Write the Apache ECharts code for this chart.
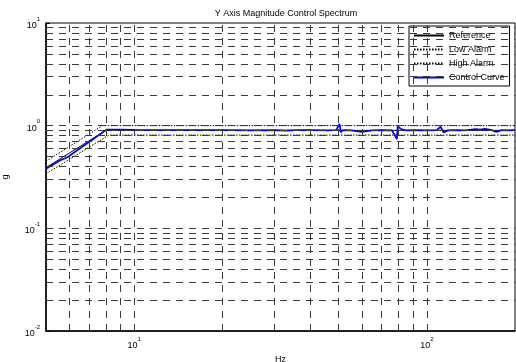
<!DOCTYPE html>
<html>
<head>
<meta charset="utf-8">
<script src="https://cdn.jsdelivr.net/npm/echarts@6/dist/echarts.min.js"></script>
<style>
html, body { margin: 0; padding: 0; background: #fff; }
#spectrumChart { width: 516px; height: 362px; }
</style>
</head>
<body>
<div id="spectrumChart"></div>
<script>
// 参考谱 / 报警线 (Hz, g)
var refFreq  = [5, 8, 200];
var refVals  = [0.39, 0.9, 0.9];
var lowFreq  = [5, 8.2, 200];
var lowVals  = [0.34, 0.81, 0.81];
var highFreq = [5, 7.8, 200];
var highVals = [0.45, 1.0, 1.0];

// 控制曲线
var ctrlFreq = [5, 5.6, 5.9, 8.05, 9, 10, 12, 15, 20, 25, 30, 33, 36, 40, 45, 49, 50.3, 50.8, 51.5, 52.5, 55, 60, 65, 70, 76, 79, 79.5, 80.7, 82, 85, 90, 100, 108, 111.5, 114, 118, 125, 135, 147, 152, 158, 165, 173, 180, 190, 200];
var ctrlVals = [0.38, 0.46, 0.49, 0.915, 0.915, 0.91, 0.905, 0.905, 0.905, 0.9, 0.905, 0.895, 0.905, 0.905, 0.9, 0.905, 1.04, 0.86, 0.9, 0.905, 0.9, 0.87, 0.9, 0.905, 0.9, 0.74, 0.98, 0.96, 0.92, 0.9, 0.905, 0.9, 0.905, 0.975, 0.86, 0.9, 0.905, 0.9, 0.925, 0.915, 0.93, 0.91, 0.87, 0.905, 0.9, 0.905];

// 网格线位置
var xGridLines = [6, 7, 8, 9, 10, 20, 30, 40, 50, 60, 70, 80, 90, 100];
var yGridLines = [0.02, 0.03, 0.04, 0.05, 0.06, 0.07, 0.08, 0.09, 0.1, 0.2, 0.3, 0.4, 0.5, 0.6, 0.7, 0.8, 0.9, 1, 2, 3, 4, 5, 6, 7, 8, 9];

function zip(xs, ys) {
    return xs.map(function (x, i) { return [x, ys[i]]; });
}

function powLabel(v) {
    var e = Math.log10(v);
    if (Math.abs(e - Math.round(e)) > 1e-6) return '';
    return '{b|10}{s|' + Math.round(e) + '}';
}

var labelRich = {
    b: { fontSize: 9, color: '#000', fontFamily: 'Liberation Sans', verticalAlign: 'bottom', lineHeight: 14 },
    s: { fontSize: 6, color: '#000', fontFamily: 'Liberation Sans', verticalAlign: 'top', lineHeight: 14 }
};

var gridMarks = [];
xGridLines.forEach(function (x) { gridMarks.push({ xAxis: x }); });
yGridLines.forEach(function (y) { gridMarks.push({ yAxis: y }); });

var chart = echarts.init(document.getElementById('spectrumChart'));
chart.setOption({
    animation: false,
    backgroundColor: '#fff',
    textStyle: { fontFamily: 'Liberation Sans' },
    title: {
        text: 'Y Axis Magnitude Control Spectrum',
        left: 281,
        textAlign: 'center',
        top: 4,
        textStyle: { fontSize: 9, fontWeight: 'normal', color: '#000' }
    },
    grid: {
        left: 46, top: 23, right: 1, bottom: 31,
        outerBoundsMode: 'none',
        containLabel: false,
        show: true, borderColor: '#000', borderWidth: 1
    },
    legend: {
        orient: 'vertical',
        left: 409, top: 26,
        padding: [4, 5, 3, 4],
        itemGap: 3,
        itemWidth: 30,
        itemHeight: 11,
        backgroundColor: '#fff',
        borderColor: '#000',
        borderWidth: 1,
        borderRadius: 0,
        itemStyle: { opacity: 0 },
        textStyle: { fontSize: 9, color: '#000', lineHeight: 11 },
        data: ['Reference', 'Low Alarm', 'High Alarm', 'Control Curve']
    },
    xAxis: {
        type: 'log', logBase: 10, min: 5, max: 200,
        name: 'Hz', nameLocation: 'middle', nameGap: 17,
        nameTextStyle: { fontSize: 9, color: '#000' },
        axisLine: { lineStyle: { color: '#000', width: 1.5 } },
        axisTick: { inside: true, length: 4, lineStyle: { color: '#000' } },
        axisLabel: { margin: 5, showMinLabel: false, showMaxLabel: false, formatter: powLabel, rich: labelRich },
        splitLine: { show: false }
    },
    yAxis: {
        type: 'log', logBase: 10, min: 0.01, max: 10,
        name: 'g', nameLocation: 'middle', nameGap: 36,
        nameTextStyle: { fontSize: 9, color: '#000' },
        axisLine: { show: true, lineStyle: { color: '#000', width: 1.5 } },
        axisTick: { inside: true, length: 4, lineStyle: { color: '#000' } },
        axisLabel: { margin: 6, formatter: powLabel, rich: labelRich },
        splitLine: { show: false }
    },
    series: [
        {
            name: 'gridlines', type: 'line', data: [], silent: true,
            markLine: {
                silent: true, symbol: 'none', label: { show: false },
                lineStyle: { color: '#3a3a3a', type: [7, 6], width: 1 },
                data: gridMarks
            }
        },
        {
            name: 'Reference', type: 'line', showSymbol: false, symbol: 'none',
            color: '#000', lineStyle: { color: '#000', width: 1 },
            data: zip(refFreq, refVals)
        },
        {
            name: 'Low Alarm', type: 'line', showSymbol: false, symbol: 'none',
            color: '#000', lineStyle: { color: '#000', width: 1, type: [1.5, 1.5] },
            data: zip(lowFreq, lowVals)
        },
        {
            name: 'High Alarm', type: 'line', showSymbol: false, symbol: 'none',
            color: '#000', lineStyle: { color: '#000', width: 1, type: [1.5, 1.5] },
            data: zip(highFreq, highVals)
        },
        {
            name: 'Control Curve', type: 'line', showSymbol: false, symbol: 'none',
            color: '#0000ff', lineStyle: { color: '#0000ff', width: 1.8 },
            data: zip(ctrlFreq, ctrlVals)
        }
    ]
});
</script>
</body>
</html>
